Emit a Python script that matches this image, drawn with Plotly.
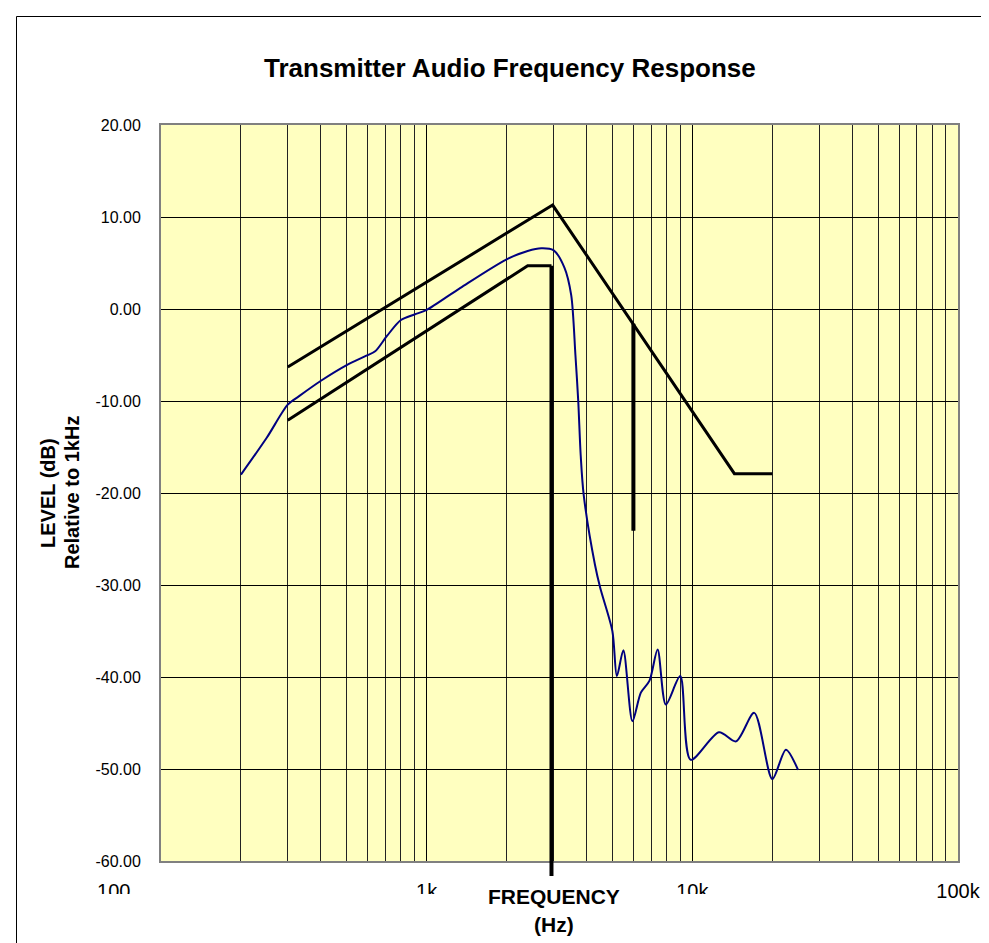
import plotly.graph_objects as go

# ---- data ----
resp_freq = [200, 250, 300, 330, 400, 500, 590, 640, 710, 800, 900, 1000, 1340, 2000, 2400, 2700,
             3000, 3300, 3500, 3630, 3720, 3800, 3900, 4300, 4500, 5000, 5200, 5500, 5950, 6400,
             6900, 7400, 7950, 9000, 9850, 12600, 14600, 17100, 20000, 22500, 25000]
resp_level = [-18.0, -14.0, -10.4, -9.5, -7.8, -6.1, -5.1, -4.6, -2.9, -1.2, -0.6, -0.1, 2.3, 5.4, 6.3, 6.6,
              6.4, 4.5, 1.5, -5.0, -10.0, -15.9, -20.2, -27.8, -30.3, -35.0, -39.9, -37.1, -44.8, -41.7,
              -40.4, -37.0, -43.0, -39.9, -49.0, -46.0, -47.0, -43.9, -51.1, -47.9, -50.1]

upper_freq = [300, 2980, 14400, 20000]
upper_level = [-6.3, 11.3, -17.9, -17.9]

lower_freq = [300, 2400, 2950]
lower_level = [-12.1, 4.7, 4.7]

cut_freq = [2950, 2950]
cut_level = [4.7, -60.0]

stop_freq = [6000, 6000]
stop_level = [-1.6, -24.1]

x_major = [100, 1000, 10000, 100000]
x_major_text = ["100" + "\u00a0" * 17, "1k", "10k", "100k"]
y_ticks = [20, 10, 0, -10, -20, -30, -40, -50, -60]
y_tick_text = ["20.00", "10.00", "0.00", "-10.00", "-20.00", "-30.00", "-40.00", "-50.00", "-60.00"]

# ---- figure ----
minor_x = [m * d for d in (100, 1000, 10000) for m in range(2, 10)]

fig = go.Figure()
fig.add_trace(go.Scatter(x=upper_freq, y=upper_level, mode="lines",
                         line=dict(color="black", width=3), showlegend=False))
fig.add_trace(go.Scatter(x=lower_freq, y=lower_level, mode="lines",
                         line=dict(color="black", width=3), showlegend=False))
fig.add_trace(go.Scatter(x=cut_freq, y=cut_level, mode="lines",
                         line=dict(color="black", width=4), showlegend=False))
fig.add_trace(go.Scatter(x=stop_freq, y=stop_level, mode="lines",
                         line=dict(color="black", width=4), showlegend=False))
fig.add_trace(go.Scatter(x=resp_freq, y=resp_level, mode="lines",
                         line=dict(color="#000080", width=2, shape="spline", smoothing=0.8),
                         showlegend=False))

W, H = 989, 943
L, R, T, B = 153, 39, 117, 90
pw, ph = W - L - R, H - T - B

def px_x(p):
    return (p - L) / pw

def px_y(p):
    return (H - B - p) / ph

fig.update_layout(
    width=W, height=H,
    margin=dict(l=L, r=R, t=T, b=B),
    paper_bgcolor="white",
    plot_bgcolor="#FFFFC0",
    font=dict(family="Liberation Sans, Arial, sans-serif", color="black"),
    showlegend=False,
    xaxis=dict(type="log", range=[2, 5], tickvals=x_major, ticktext=x_major_text,
               showgrid=True, gridcolor="black", gridwidth=1,
               minor=dict(tickvals=minor_x, showgrid=True, gridcolor="#222222", gridwidth=1, ticks=""),
               showline=True, linecolor="#808080", linewidth=2, mirror=True,
               ticks="", ticklabelstandoff=11, tickfont=dict(size=20), zeroline=False),
    yaxis=dict(range=[-60, 20], tickvals=y_ticks, ticktext=y_tick_text,
               showgrid=True, gridcolor="black", gridwidth=1,
               showline=True, linecolor="#808080", linewidth=2, mirror=True,
               ticks="", ticklabelstandoff=15, tickfont=dict(size=16), zeroline=False),
    shapes=[
        # overhang of the thick cut-off line below the plot area
        dict(type="line", xref="x", yref="paper", x0=cut_freq[0], x1=cut_freq[1],
             y0=0, y1=px_y(868), line=dict(color="black", width=4), layer="above"),
        # white strip that hides the lower part of the first x labels (as in the original)
        dict(type="rect", xref="paper", yref="paper",
             x0=px_x(-5), x1=px_x(900), y0=px_y(886), y1=px_y(960),
             line=dict(width=0), fillcolor="white", layer="above"),
        # chart frame
        dict(type="rect", xref="paper", yref="paper",
             x0=px_x(8.5), x1=px_x(1000), y0=px_y(8.5), y1=px_y(960),
             line=dict(color="black", width=1), fillcolor="rgba(0,0,0,0)", layer="above"),
    ],
    annotations=[
        dict(text="<b>Transmitter Audio Frequency Response</b>", xref="paper", yref="paper",
             x=px_x(502), y=px_y(60), xanchor="center", yanchor="middle", showarrow=False,
             font=dict(size=26)),
        dict(text="<b>FREQUENCY</b>", xref="paper", yref="paper",
             x=px_x(546), y=px_y(888), xanchor="center", yanchor="middle", showarrow=False,
             font=dict(size=21)),
        dict(text="<b>(Hz)</b>", xref="paper", yref="paper",
             x=px_x(546), y=px_y(916), xanchor="center", yanchor="middle", showarrow=False,
             font=dict(size=21)),
        dict(text="<b>LEVEL (dB)</b>", xref="paper", yref="paper",
             x=px_x(40), y=px_y(485), xanchor="center", yanchor="middle", showarrow=False,
             textangle=-90, font=dict(size=20)),
        dict(text="<b>Relative to 1kHz</b>", xref="paper", yref="paper",
             x=px_x(64), y=px_y(485), xanchor="center", yanchor="middle", showarrow=False,
             textangle=-90, font=dict(size=20)),
    ],
)

fig.write_html("out.html")
